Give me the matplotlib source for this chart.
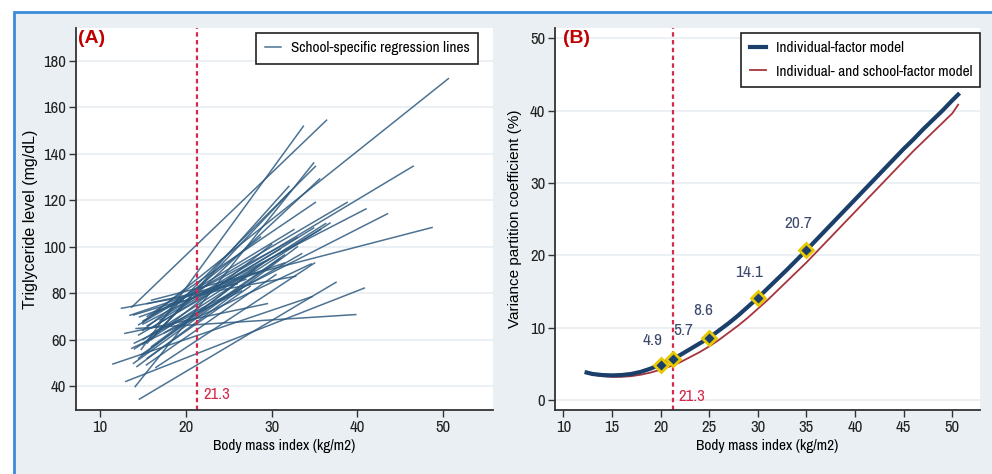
import matplotlib
matplotlib.use("Agg")
import matplotlib.pyplot as plt
from matplotlib import font_manager
from matplotlib.patches import Rectangle

# fonts: Stata-like narrow sans for ticks/legends, Arial-like for y titles
names = {f.name for f in font_manager.fontManager.ttflist}


def pick(cands, default):
    for c in cands:
        if c in names:
            return c
    return default


NARROW = pick(["Liberation Sans Narrow", "Arial Narrow", "Archivo Narrow", "PT Sans Narrow",
               "Roboto Condensed", "Pragati Narrow", "Encode Sans Condensed",
               "Open Sans Condensed"], "Liberation Sans")
REG = pick(["Liberation Sans", "Arimo"], "DejaVu Sans")
plt.rcParams["font.family"] = [NARROW, "DejaVu Sans"]

# ---- panel A: school-specific regression lines (endpoints)
school_bmi_lo = [14.6, 13.0, 11.5, 14.2, 12.5, 13.7, 15.0, 15.5, 16.0, 16.0,
                 15.0, 14.5, 15.5, 14.8, 14.1, 16.5, 15.0, 16.0, 15.5, 14.0,
                 15.0, 14.5, 16.0, 15.0, 13.7, 15.0, 12.9, 14.3, 13.9, 15.4,
                 14.5, 14.8, 14.6, 16.5, 15.5, 17.0, 16.0, 17.5, 15.5, 14.0,
                 16.5, 18.0, 16.0, 13.9, 13.5]
school_tg_lo = [34.4, 42.0, 49.5, 64.8, 73.5, 74.0, 67.5, 66.0, 77.0, 62.5,
                66.7, 66.4, 70.0, 55.8, 39.8, 66.0, 58.0, 60.0, 58.5, 56.0,
                60.0, 62.0, 65.0, 68.0, 56.3, 64.0, 62.7, 48.4, 49.8, 49.1,
                52.0, 53.5, 69.8, 72.0, 75.5, 68.5, 57.0, 63.0, 52.0, 58.5,
                48.0, 66.0, 70.5, 70.6, 70.5]
school_bmi_hi = [37.5, 40.8, 34.7, 39.8, 32.8, 36.4, 50.6, 46.5, 48.7, 43.5,
                 41.0, 38.8, 35.1, 33.7, 34.9, 35.1, 35.6, 32.0, 32.2, 36.8,
                 36.3, 35.7, 34.9, 32.6, 34.6, 28.7, 29.5, 33.0, 31.0, 30.5,
                 29.0, 31.5, 27.0, 29.5, 26.0, 31.0, 28.0, 33.5, 27.5, 26.5,
                 35.0, 30.0, 33.0, 19.7, 31.5]
school_tg_hi = [84.7, 82.2, 78.5, 70.8, 87.3, 154.5, 172.4, 134.7, 108.3, 114.2,
                116.3, 119.1, 119.1, 151.9, 136.1, 134.6, 129.2, 126.0, 123.9, 110.2,
                110.0, 107.4, 108.1, 107.4, 92.6, 104.2, 75.5, 100.0, 95.0, 88.0,
                93.0, 96.5, 86.0, 90.5, 84.0, 99.0, 90.0, 97.0, 83.0, 81.0,
                93.0, 101.0, 104.0, 77.1, 93.0]

# ---- panel B: variance partition coefficient curves
bmi_grid = [12.4, 13, 14, 15, 16, 17, 18, 19, 20, 21.3, 22, 23, 24, 25, 26, 27,
            28, 29, 30, 31, 32, 33, 34, 35, 36, 37, 38, 39, 40, 41, 42, 43, 44,
            45, 46, 47, 48, 49, 50, 50.6]
vpc_individual = [3.8, 3.6, 3.45, 3.4, 3.45, 3.6, 3.9, 4.35, 4.9, 5.7, 6.2, 7.0,
                  7.8, 8.6, 9.6, 10.6, 11.7, 12.9, 14.1, 15.4, 16.7, 18.0, 19.35,
                  20.7, 22.1, 23.5, 24.9, 26.3, 27.7, 29.1, 30.5, 31.9, 33.3,
                  34.7, 36.0, 37.4, 38.7, 40.0, 41.4, 42.2]
vpc_school = [3.7, 3.5, 3.3, 3.2, 3.2, 3.3, 3.5, 3.8, 4.2, 4.8, 5.2, 5.9, 6.6,
              7.4, 8.3, 9.3, 10.3, 11.4, 12.6, 13.8, 15.1, 16.4, 17.7, 19.0,
              20.4, 21.8, 23.2, 24.6, 26.0, 27.4, 28.8, 30.2, 31.6, 33.0, 34.4,
              35.7, 37.0, 38.3, 39.6, 40.8]
marker_bmi = [20, 21.3, 25, 30, 35]
marker_vpc = [4.9, 5.7, 8.6, 14.1, 20.7]
marker_text = ["4.9", "5.7", "8.6", "14.1", "20.7"]

cutoff = 21.3

BG = "#e9eff2"
LINE_A = "#2d5a80"
NAVY = "#1b3f6b"
DARKRED = "#a5343c"
CUT = "#d42a4c"
AXC = "#333333"

fig = plt.figure(figsize=(9.92, 4.74), dpi=100)
fig.patch.set_facecolor("white")
fig.patches.append(Rectangle((14 / 992, -0.01), 1.0, (474 - 12) / 474 + 0.01,
                             transform=fig.transFigure, facecolor=BG,
                             edgecolor="#3d8bd8", linewidth=2, zorder=-10))

axA = fig.add_axes([76 / 992, 64 / 474, 417 / 992, 382 / 474])
axB = fig.add_axes([555 / 992, 64 / 474, 425 / 992, 382 / 474])


def style_axes(ax):
    ax.set_facecolor("white")
    for s in ["top", "right"]:
        ax.spines[s].set_visible(False)
    for s in ["left", "bottom"]:
        ax.spines[s].set_color(AXC)
        ax.spines[s].set_linewidth(1.3)
    ax.tick_params(direction="out", length=5, width=1, color=AXC,
                   labelsize=12, labelcolor="#222222", pad=2)
    ax.yaxis.grid(True, color="#e6eef2", linewidth=1.2)
    ax.set_axisbelow(True)


def style_legend(leg):
    leg.get_frame().set_edgecolor("#222222")
    leg.get_frame().set_linewidth(1.2)


# ---- panel A
style_axes(axA)
for i in range(len(school_bmi_lo)):
    axA.plot([school_bmi_lo[i], school_bmi_hi[i]], [school_tg_lo[i], school_tg_hi[i]],
             color=LINE_A, lw=1.1, alpha=0.85,
             label="School-specific regression lines" if i == 0 else None)
axA.axvline(cutoff, color=CUT, lw=1.6, ls=(0, (2, 1.5)))
axA.text(cutoff + 0.7, 36.5, "21.3", color=CUT, fontsize=12, va="center")
axA.set_xlim(7.2, 55.8)
axA.set_ylim(29.7, 194.2)
axA.set_xticks([10, 20, 30, 40, 50])
axA.set_yticks(range(40, 181, 20))
axA.set_xlabel("Body mass index (kg/m2)", fontsize=11, labelpad=3)
axA.set_ylabel("Triglyceride level (mg/dL)", fontsize=11.5, family=REG, labelpad=4)
axA.text(0.005, 0.995, "(A)", transform=axA.transAxes, ha="left", va="top",
         color="#c00000", fontsize=14, fontweight="bold", family=REG)
legA = axA.legend(loc="upper left", bbox_to_anchor=(0.432, 0.987), borderaxespad=0,
                  fontsize=11, frameon=True, fancybox=False, handlelength=1.1,
                  handletextpad=0.6, borderpad=0.55, framealpha=1)
style_legend(legA)

# ---- panel B
style_axes(axB)
axB.plot(bmi_grid, vpc_individual, color=NAVY, lw=3, label="Individual-factor model", zorder=3)
axB.plot(bmi_grid, vpc_school, color=DARKRED, lw=1.3,
         label="Individual- and school-factor model", zorder=2)
axB.plot(marker_bmi, marker_vpc, ls="none", marker="D", markersize=7,
         markerfacecolor=NAVY, markeredgecolor="#e8c800", markeredgewidth=2, zorder=4)
label_offsets = [(-6, 12), (7, 15), (-4, 14), (-6, 13), (-6, 14)]
for xv, yv, t, off in zip(marker_bmi, marker_vpc, marker_text, label_offsets):
    axB.annotate(t, (xv, yv), xytext=off, textcoords="offset points",
                 ha="center", va="bottom", color="#3d4a6e", fontsize=12.5)
axB.axvline(cutoff, color=CUT, lw=1.6, ls=(0, (2, 1.5)))
axB.text(cutoff + 0.5, 0.45, "21.3", color=CUT, fontsize=12, va="center")
axB.set_xlim(9.15, 52.85)
axB.set_ylim(-1.38, 51.4)
axB.set_xticks(range(10, 51, 5))
axB.set_yticks(range(0, 51, 10))
axB.set_xlabel("Body mass index (kg/m2)", fontsize=11, labelpad=3)
axB.set_ylabel("Variance partition coefficient (%)", fontsize=11, family=REG, labelpad=6)
axB.text(0.02, 0.995, "(B)", transform=axB.transAxes, ha="left", va="top",
         color="#c00000", fontsize=14, fontweight="bold", family=REG)
legB = axB.legend(loc="upper left", bbox_to_anchor=(0.438, 0.987), borderaxespad=0,
                  fontsize=11, frameon=True, fancybox=False, handlelength=1.1,
                  handletextpad=0.6, borderpad=0.55, labelspacing=0.6, framealpha=1)
style_legend(legB)

fig.savefig("out.png", dpi=100, facecolor=fig.get_facecolor())
